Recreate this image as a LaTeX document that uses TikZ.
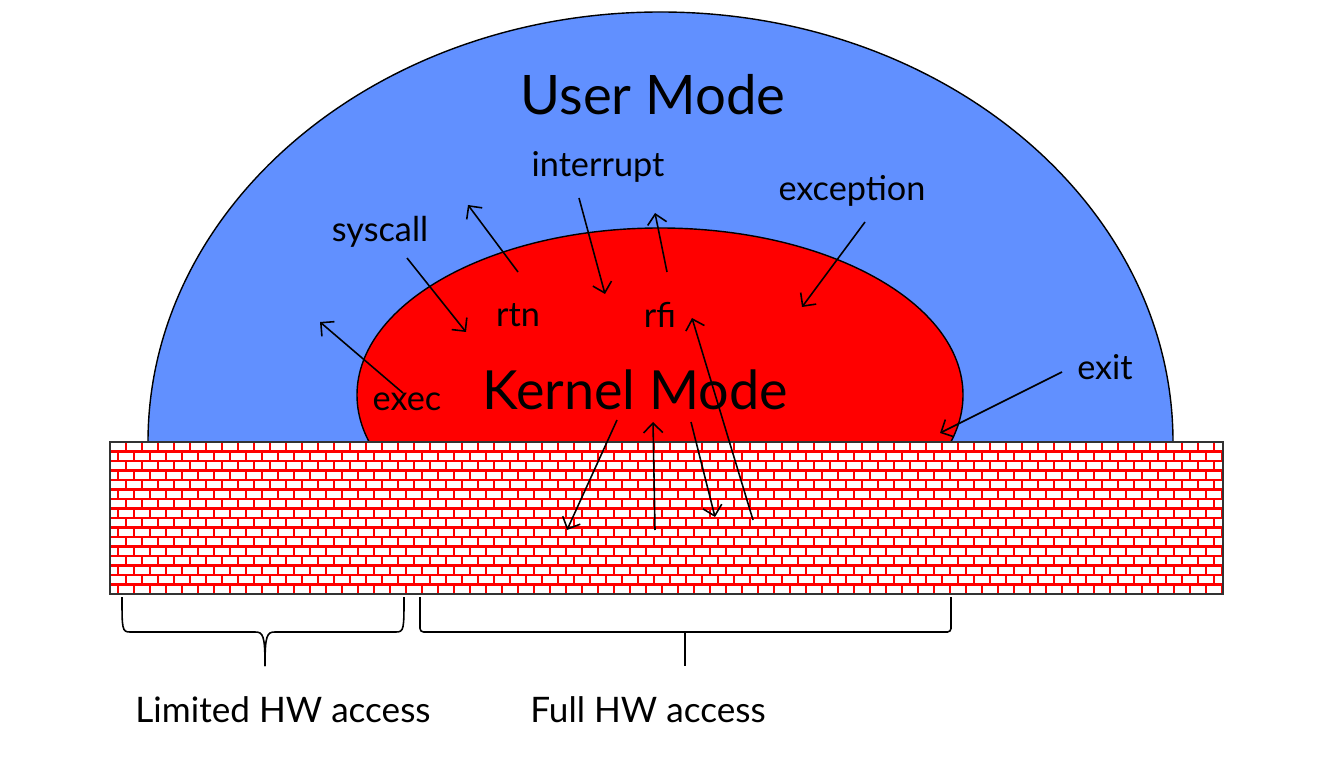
\documentclass[tikz,border=0pt]{standalone}
\usepackage{fontspec}
\setmainfont{Lato}
\usetikzlibrary{arrows.meta}
\definecolor{umblue}{RGB}{97,144,255}
\definecolor{kmred}{RGB}{255,0,0}
\tikzset{
  px/.style={x=0.02cm,y=0.02cm},
  bigum/.style={font=\fontsize{31}{36}\selectfont, inner sep=0pt},
  bigkm/.style={font=\fontsize{30.7}{36}\selectfont, inner sep=0pt},
  small/.style={font=\fontsize{19.5}{22}\selectfont, inner sep=0pt},
  hw/.style={font=\fontsize{20}{24}\selectfont, inner sep=0pt},
  arr/.style={-{Straight Barb[length=5.5pt,width=11pt]}, line width=0.9pt, black},
  brace/.style={line width=0.9pt, black},
  brickline/.style={kmred, line width=1.3pt},
}
\begin{document}
\begin{tikzpicture}[px]
\useasboundingbox (0,0) rectangle (1328,761);
% user mode half ellipse
\path[fill=umblue, draw=black, line width=0.8pt] (148,319) arc[start angle=180,end angle=0,x radius=512.5,y radius=430] -- cycle;
% kernel ellipse
\path[fill=kmred, draw=black, line width=0.8pt] (660,366) ellipse[x radius=303, y radius=167];
% brick wall
\fill[white] (110,167) rectangle (1223,319);
\begin{scope}
\clip (110,167) rectangle (1223,319);
\foreach \k in {1,...,15} {
  \draw[brickline] (110,319-\k*9.5) -- (1223,319-\k*9.5);
}
\foreach \k in {0,...,15} {
  \pgfmathsetmacro{\off}{mod(\k,2)*8}
  \foreach \j in {0,...,70} {
    \draw[brickline] (110+\off+\j*16,319-\k*9.5) -- (110+\off+\j*16,319-\k*9.5-9.5);
  }
}
\end{scope}
\draw[black!80, line width=0.8pt] (110,167) rectangle (1223,319);
% labels
\node[bigum] (um) at (653,666) {User Mode};
\node[bigkm] (km) at (635,371) {Kernel Mode};
\node[small] (intr) at (598,594) {interrupt};
\node[small] (sysc) at (380,529) {syscall};
\node[small] (excp) at (852,570) {exception};
\node[small] (rtn) at (518,446) {rtn};
\node[small] (rfi) at (660,446) {rfi};
\node[small] (exec) at (407,359) {exec};
\node[small] (exit) at (1105,394) {exit};
\node[hw] (lim) at (283,51) {Limited HW access};
\node[hw] (full) at (648,51) {Full HW access};
% arrow end points
\coordinate (s1) at (407,503); \coordinate (e1) at (466,429);
\coordinate (s2) at (518,489); \coordinate (e2) at (468,556);
\coordinate (s3) at (579,563); \coordinate (e3) at (605,467);
\coordinate (s4) at (667,489); \coordinate (e4) at (655,548);
\coordinate (s5) at (403,368); \coordinate (e5) at (320,439);
\coordinate (s6) at (865,539); \coordinate (e6) at (802,454);
\coordinate (s7) at (1062,389); \coordinate (e7) at (940,328);
\coordinate (s8) at (617,341); \coordinate (e8) at (567,231);
\coordinate (s9) at (655,231); \coordinate (e9) at (653,339);
\coordinate (s10) at (691,339); \coordinate (e10) at (715,244);
\coordinate (s11) at (753,241); \coordinate (e11) at (692,443);
\foreach \i in {1,...,11} { \draw[arr] (s\i) -- (e\i); }
% braces
\coordinate (lbl) at (122,164); \coordinate (lbr) at (404,164); \coordinate (lbt) at (265,95);
\draw[brace] (lbl) .. controls (122,132) and (122,129) .. (130,129) -- (255,129) .. controls (263,129) and (265,126) .. (lbt);
\draw[brace] (lbr) .. controls (404,132) and (404,129) .. (396,129) -- (275,129) .. controls (267,129) and (265,126) .. (lbt);
\coordinate (rbl) at (420,164); \coordinate (rbr) at (951,164);
\coordinate (rbs) at (685,129); \coordinate (rbt) at (685,95);
\draw[brace, rounded corners=2pt] (rbl) -- (420,129) -- (951,129) -- (rbr);
\draw[line width=1.6pt] (rbs) -- (rbt);
\end{tikzpicture}
\end{document}
